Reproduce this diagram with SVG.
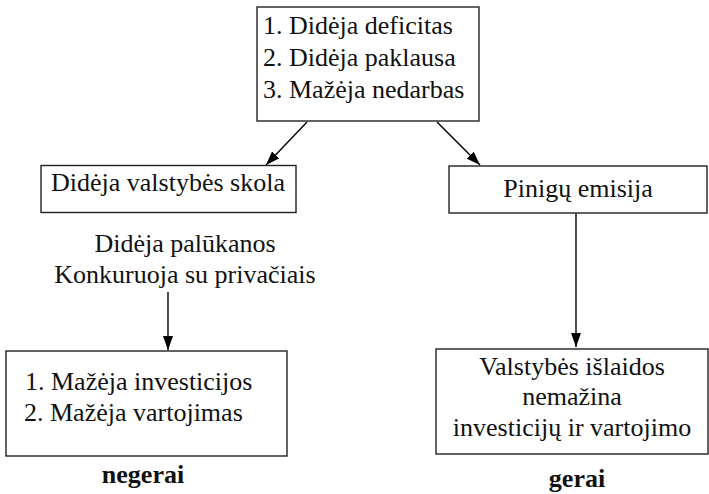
<svg xmlns="http://www.w3.org/2000/svg" width="709" height="494" viewBox="0 0 709 494">
<style>
.box{fill:#fff;stroke:#222;stroke-width:1.4}
.t{font-family:"Liberation Serif","Times New Roman",serif;font-size:26px;fill:#111}
.c{text-anchor:middle}
.b{font-weight:bold}
.con{stroke:#000;stroke-width:1.4;fill:none}
</style>
<defs>
<marker id="ah" markerUnits="userSpaceOnUse" viewBox="0 0 14 10" refX="14" refY="5" markerWidth="14" markerHeight="10" orient="auto">
<path d="M0,0 L14,5 L0,10 z" fill="#000"/>
</marker>
</defs>
<rect width="709" height="494" fill="#fff"/>
<g id="connectors">
<line class="con" x1="307" y1="122" x2="266" y2="165" marker-end="url(#ah)"/>
<line class="con" x1="437" y1="122" x2="480" y2="165" marker-end="url(#ah)"/>
<line class="con" x1="168" y1="292" x2="168" y2="350" marker-end="url(#ah)"/>
<line class="con" x1="576" y1="213" x2="576" y2="347" marker-end="url(#ah)"/>
</g>
<g id="top">
<rect class="box" x="257" y="7" width="222" height="114"/>
<text class="t" x="263" y="34">1. Didėja deficitas</text>
<text class="t" x="263" y="66">2. Didėja paklausa</text>
<text class="t" x="263" y="98">3. Mažėja nedarbas</text>
</g>
<g id="skola">
<rect class="box" x="41" y="165.5" width="255" height="47"/>
<text class="t c" x="168" y="191">Didėja valstybės skola</text>
</g>
<g id="label">
<text class="t c" x="185" y="252">Didėja palūkanos</text>
<text class="t c" x="185" y="283">Konkuruoja su privačiais</text>
</g>
<g id="emisija">
<rect class="box" x="449" y="166" width="258" height="47"/>
<text class="t c" x="578" y="197">Pinigų emisija</text>
</g>
<g id="negerai-box">
<rect class="box" x="6" y="351" width="281" height="105"/>
<text class="t" x="25" y="390">1. Mažėja investicijos</text>
<text class="t" x="24" y="421">2. Mažėja vartojimas</text>
<text class="t c b" x="143" y="483">negerai</text>
</g>
<g id="gerai-box">
<rect class="box" x="436" y="349" width="272" height="105"/>
<text class="t c" x="572" y="375">Valstybės išlaidos</text>
<text class="t c" x="572" y="405">nemažina</text>
<text class="t c" x="572" y="436">investicijų ir vartojimo</text>
<text class="t c b" x="577" y="487">gerai</text>
</g>
</svg>
